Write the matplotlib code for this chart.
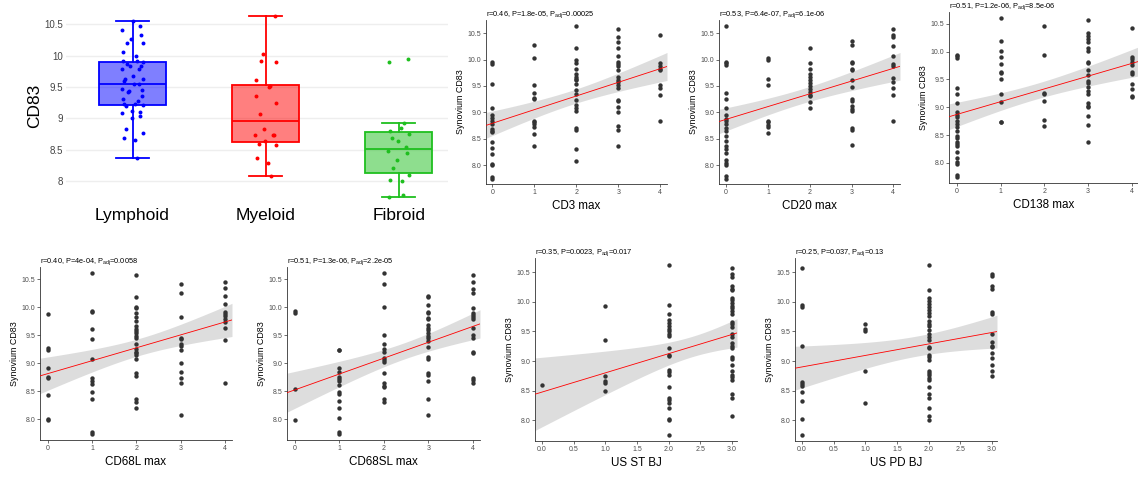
import numpy as np
import matplotlib.pyplot as plt
from matplotlib.colors import to_rgba

plt.rcParams['font.family'] = ['Liberation Sans', 'DejaVu Sans']
plt.rcParams['mathtext.default'] = 'regular'

# box plot data: CD83 by pathotype
groups = ['Lymphoid', 'Myeloid', 'Fibroid']
lymphoid = [10.56, 10.47, 10.41, 10.33, 10.26, 10.20, 10.20, 10.06, 9.99, 9.92, 9.91, 9.89,
            9.87, 9.84, 9.83, 9.79, 9.78, 9.68, 9.63, 9.62, 9.60, 9.55, 9.54, 9.46, 9.45,
            9.43, 9.42, 9.36, 9.31, 9.27, 9.23, 9.22, 9.21, 9.19, 9.12, 9.10, 9.08, 9.04,
            9.00, 8.83, 8.77, 8.69, 8.65, 8.37]
myeloid = [10.63, 10.02, 9.92, 9.90, 9.61, 9.51, 9.50, 9.35, 9.24, 9.07, 8.83, 8.73, 8.73,
           8.73, 8.64, 8.59, 8.57, 8.36, 8.29, 8.07]
fibroid = [9.94, 9.89, 8.92, 8.84, 8.80, 8.75, 8.68, 8.63, 8.54, 8.48, 8.44, 8.33, 8.21,
           8.10, 8.02, 8.00, 7.78, 7.74]
box_colors = ['#0000ff', '#ff0000', '#1fbf1f']

# scatter panels: CD83 values at each score level
cd3 = {0: [9.96, 9.91, 9.54, 9.08, 8.94, 8.89, 8.84, 8.77, 8.69, 8.65, 8.63, 8.44, 8.33, 8.21, 8.02, 8.00, 7.77, 7.74],
       1: [10.28, 10.03, 9.51, 9.36, 9.27, 9.25, 8.84, 8.81, 8.77, 8.73, 8.59, 8.37],
       2: [10.64, 10.21, 10.00, 9.93, 9.83, 9.73, 9.67, 9.64, 9.61, 9.53, 9.42, 9.34, 9.23, 9.14, 9.08, 9.03, 8.71, 8.66, 8.31, 8.08],
       3: [10.58, 10.42, 10.34, 10.22, 10.07, 9.95, 9.92, 9.88, 9.80, 9.66, 9.61, 9.57, 9.52, 9.46, 9.23, 9.21, 9.10, 9.01, 8.74, 8.67, 8.37],
       4: [10.47, 9.93, 9.88, 9.83, 9.80, 9.51, 9.46, 9.32, 8.83]}
cd20 = {0: [10.64, 9.96, 9.93, 9.90, 9.36, 9.25, 9.08, 8.94, 8.88, 8.84, 8.77, 8.71, 8.65, 8.55, 8.45, 8.37, 8.31, 8.22, 8.10, 8.04, 8.00, 7.79, 7.74],
        1: [10.03, 10.00, 9.63, 9.51, 8.84, 8.81, 8.76, 8.72, 8.60],
        2: [10.22, 9.93, 9.83, 9.73, 9.67, 9.61, 9.55, 9.50, 9.44, 9.38, 9.33, 9.30, 9.20, 9.09],
        3: [10.36, 10.28, 9.95, 9.93, 9.83, 9.80, 9.61, 9.47, 9.25, 9.21, 9.11, 9.06, 9.03, 8.71, 8.67, 8.38],
        4: [10.58, 10.47, 10.43, 10.25, 10.07, 9.91, 9.88, 9.65, 9.57, 9.46, 9.32, 8.84]}
cd138 = {0: [9.94, 9.92, 9.88, 9.35, 9.24, 9.07, 8.92, 8.86, 8.82, 8.76, 8.70, 8.64, 8.58, 8.49, 8.45, 8.37, 8.34, 8.31, 8.20, 8.08, 8.01, 7.99, 7.79, 7.74],
         1: [10.61, 10.19, 10.01, 9.91, 9.78, 9.63, 9.62, 9.50, 9.23, 9.09, 8.74, 8.73],
         2: [10.46, 9.93, 9.26, 9.23, 9.12, 8.78, 8.66],
         3: [10.56, 10.33, 10.28, 10.23, 10.18, 10.06, 10.01, 9.82, 9.80, 9.67, 9.57, 9.47, 9.44, 9.36, 9.30, 9.24, 9.08, 9.03, 9.00, 8.84, 8.69, 8.37],
         4: [10.42, 9.91, 9.86, 9.81, 9.76, 9.63, 9.59, 9.41, 9.32, 9.21, 9.18]}
cd68l = {0: [9.88, 9.27, 9.24, 8.92, 8.76, 8.73, 8.44, 8.01, 7.99],
         1: [10.62, 9.93, 9.92, 9.61, 9.44, 9.08, 8.73, 8.69, 8.63, 8.48, 8.36, 7.78, 7.74],
         2: [10.57, 10.19, 10.01, 9.98, 9.90, 9.82, 9.75, 9.67, 9.62, 9.58, 9.54, 9.49, 9.45, 9.34, 9.26, 9.21, 9.18, 9.14, 9.08, 8.83, 8.77, 8.37, 8.31, 8.21],
         3: [10.41, 10.26, 9.82, 9.46, 9.43, 9.35, 9.31, 9.23, 9.01, 8.84, 8.74, 8.65, 8.08],
         4: [10.46, 10.34, 10.21, 10.06, 9.92, 9.88, 9.85, 9.79, 9.74, 9.63, 9.42, 8.65]}
cd68sl = {0: [9.94, 9.89, 8.54, 7.99],
          1: [9.24, 9.23, 8.92, 8.84, 8.76, 8.72, 8.68, 8.61, 8.48, 8.45, 8.32, 8.21, 8.02, 7.78, 7.74],
          2: [10.62, 10.42, 10.01, 9.50, 9.35, 9.26, 9.21, 9.10, 9.06, 9.02, 8.83, 8.65, 8.60, 8.57, 8.36, 8.30],
          3: [10.20, 10.18, 10.05, 9.92, 9.90, 9.81, 9.80, 9.69, 9.63, 9.60, 9.54, 9.49, 9.45, 9.39, 9.30, 9.12, 9.08, 8.83, 8.79, 8.69, 8.37, 8.08],
          4: [10.57, 10.46, 10.33, 10.26, 9.99, 9.90, 9.86, 9.83, 9.79, 9.63, 9.51, 9.46, 9.20, 9.18, 8.74, 8.71, 8.64]}
us_st = {0: [8.60],
         1: [9.93, 9.36, 8.74, 8.66, 8.63, 8.49],
         2: [10.62, 9.94, 9.79, 9.69, 9.64, 9.59, 9.54, 9.51, 9.46, 9.42, 9.22, 9.11, 9.09, 8.85, 8.82, 8.77, 8.56, 8.37, 8.34, 8.29, 8.21, 8.02, 8.00, 7.75],
         3: [10.57, 10.47, 10.42, 10.27, 10.22, 10.20, 10.06, 10.03, 9.98, 9.93, 9.89, 9.85, 9.79, 9.66, 9.63, 9.57, 9.46, 9.41, 9.31, 9.25, 9.22, 9.07, 9.04, 8.94, 8.84, 8.77, 8.73, 8.68, 8.45, 8.38, 8.08]}
us_pd = {0: [10.57, 9.94, 9.91, 9.25, 8.65, 8.62, 8.58, 8.48, 8.33, 8.02, 7.75],
         1: [9.62, 9.54, 9.51, 8.84, 8.30],
         2: [10.62, 10.20, 10.06, 10.02, 9.97, 9.91, 9.86, 9.81, 9.76, 9.67, 9.63, 9.60, 9.52, 9.46, 9.41, 9.36, 9.24, 9.22, 9.10, 9.07, 9.02, 8.84, 8.80, 8.76, 8.72, 8.68, 8.56, 8.45, 8.37, 8.21, 8.08, 8.00],
         3: [10.47, 10.43, 10.27, 10.21, 9.83, 9.79, 9.46, 9.32, 9.26, 9.23, 9.13, 9.05, 8.93, 8.84, 8.74]}

W, H = 1138, 483
fig = plt.figure(figsize=(W / 100, H / 100), dpi=100)


def px_axes(left, top, right, bottom):
    return fig.add_axes([left / W, 1 - bottom / H, (right - left) / W, (bottom - top) / H])


# ---- box plot panel ----
ax = px_axes(66, 8, 448, 204)
data = [lymphoid, myeloid, fibroid]
bp = ax.boxplot(data, positions=[0, 1, 2], widths=0.5, showfliers=False,
                patch_artist=True, capwidths=0.25)
for i, c in enumerate(box_colors):
    bp['boxes'][i].set_facecolor(to_rgba(c, 0.5))
    bp['boxes'][i].set_edgecolor(c)
    bp['boxes'][i].set_linewidth(1.3)
    bp['medians'][i].set(color=c, linewidth=1.3)
    for w in bp['whiskers'][2 * i:2 * i + 2] + bp['caps'][2 * i:2 * i + 2]:
        w.set(color=c, linewidth=1.3)
    n = len(data[i])
    offs = 0.08 * np.sin(np.arange(n) * 2.4 + i)
    ax.scatter(i + offs, data[i], s=8, color=c, zorder=3, linewidths=0)
ax.set_xlim(-0.5, 2.37)
ax.set_ylim(7.63, 10.76)
ax.set_yticks([8, 8.5, 9, 9.5, 10, 10.5])
ax.set_yticklabels(['8', '8.5', '9', '9.5', '10', '10.5'])
ax.set_xticks([0, 1, 2])
ax.set_xticklabels(groups, fontsize=12.5)
ax.tick_params(axis='y', length=0, labelsize=7, labelcolor='#444444', pad=2)
ax.tick_params(axis='x', length=0, pad=3)
ax.yaxis.grid(True, color='#eeeeee', linewidth=1)
ax.set_axisbelow(True)
for s in ax.spines.values():
    s.set_visible(False)
ax.set_ylabel('CD83', fontsize=12.5, labelpad=2)


# ---- scatter panels ----
def scatter_panel(rect, levels, xlim, ylim, xticks, xfmt, title, xlabel):
    ax = px_axes(*rect)
    x = np.concatenate([np.full(len(v), k, dtype=float) for k, v in levels.items()])
    y = np.concatenate([np.array(v) for v in levels.values()])
    b, a = np.polyfit(x, y, 1)
    n = len(x)
    res = y - (a + b * x)
    s = np.sqrt(np.sum(res ** 2) / (n - 2))
    xs = np.linspace(xlim[0], xlim[1], 100)
    yh = a + b * xs
    se = s * np.sqrt(1 / n + (xs - x.mean()) ** 2 / np.sum((x - x.mean()) ** 2))
    ax.fill_between(xs, yh - 1.99 * se, yh + 1.99 * se, color='#999999', alpha=0.33, linewidth=0)
    ax.scatter(x, y, s=10, color='#333333', linewidths=0, zorder=3)
    ax.plot(xs, yh, color='#ff0000', linewidth=0.6, zorder=4)
    ax.set_xlim(*xlim)
    ax.set_ylim(*ylim)
    ax.set_xticks(xticks)
    ax.set_xticklabels([xfmt.format(t) for t in xticks])
    yt = [8.0, 8.5, 9.0, 9.5, 10.0, 10.5]
    ax.set_yticks(yt)
    ax.set_yticklabels(['%.1f' % t for t in yt])
    for sp in ['top', 'right']:
        ax.spines[sp].set_visible(False)
    for sp in ['left', 'bottom']:
        ax.spines[sp].set_color('#333333')
        ax.spines[sp].set_linewidth(0.6)
    ax.tick_params(length=2, width=0.5, color='#333333', labelsize=5,
                   labelcolor='#4d4d4d', pad=1.5)
    ax.set_ylabel('Synovium CD83', fontsize=6.4, labelpad=2)
    ax.set_xlabel(xlabel, fontsize=8.4, labelpad=3)
    ax.set_title(title, loc='left', fontsize=5.3, pad=2.5)
    return ax


ylim_top = (7.64, 10.75)
scatter_panel((486, 20, 667, 184), cd3, (-0.15, 4.16), ylim_top, [0, 1, 2, 3, 4], '{:d}',
              'r=0.46, P=1.8e-05, P$_{adj}$=0.00025', 'CD3 max')
scatter_panel((719, 20, 900, 184), cd20, (-0.17, 4.16), ylim_top, [0, 1, 2, 3, 4], '{:d}',
              'r=0.53, P=6.4e-07, P$_{adj}$=6.1e-06', 'CD20 max')
scatter_panel((949, 12, 1138, 183), cd138, (-0.18, 4.14), (7.64, 10.71), [0, 1, 2, 3, 4], '{:d}',
              'r=0.51, P=1.2e-06, P$_{adj}$=8.5e-06', 'CD138 max')
scatter_panel((40, 267, 232, 440), cd68l, (-0.18, 4.16), (7.63, 10.72), [0, 1, 2, 3, 4], '{:d}',
              'r=0.40, P=4e-04, P$_{adj}$=0.0058', 'CD68L max')
scatter_panel((287, 267, 480, 440), cd68sl, (-0.18, 4.16), (7.63, 10.72), [0, 1, 2, 3, 4], '{:d}',
              'r=0.51, P=1.3e-06, P$_{adj}$=2.2e-05', 'CD68SL max')
scatter_panel((535, 258, 737, 441), us_st, (-0.11, 3.08), (7.65, 10.74),
              [0, 0.5, 1, 1.5, 2, 2.5, 3], '{:.1f}',
              'r=0.35, P=0.0023, P$_{adj}$=0.017', 'US ST BJ')
scatter_panel((795, 258, 997, 441), us_pd, (-0.11, 3.08), (7.65, 10.74),
              [0, 0.5, 1, 1.5, 2, 2.5, 3], '{:.1f}',
              'r=0.25, P=0.037, P$_{adj}$=0.13', 'US PD BJ')

fig.savefig('out.png', dpi=100)
